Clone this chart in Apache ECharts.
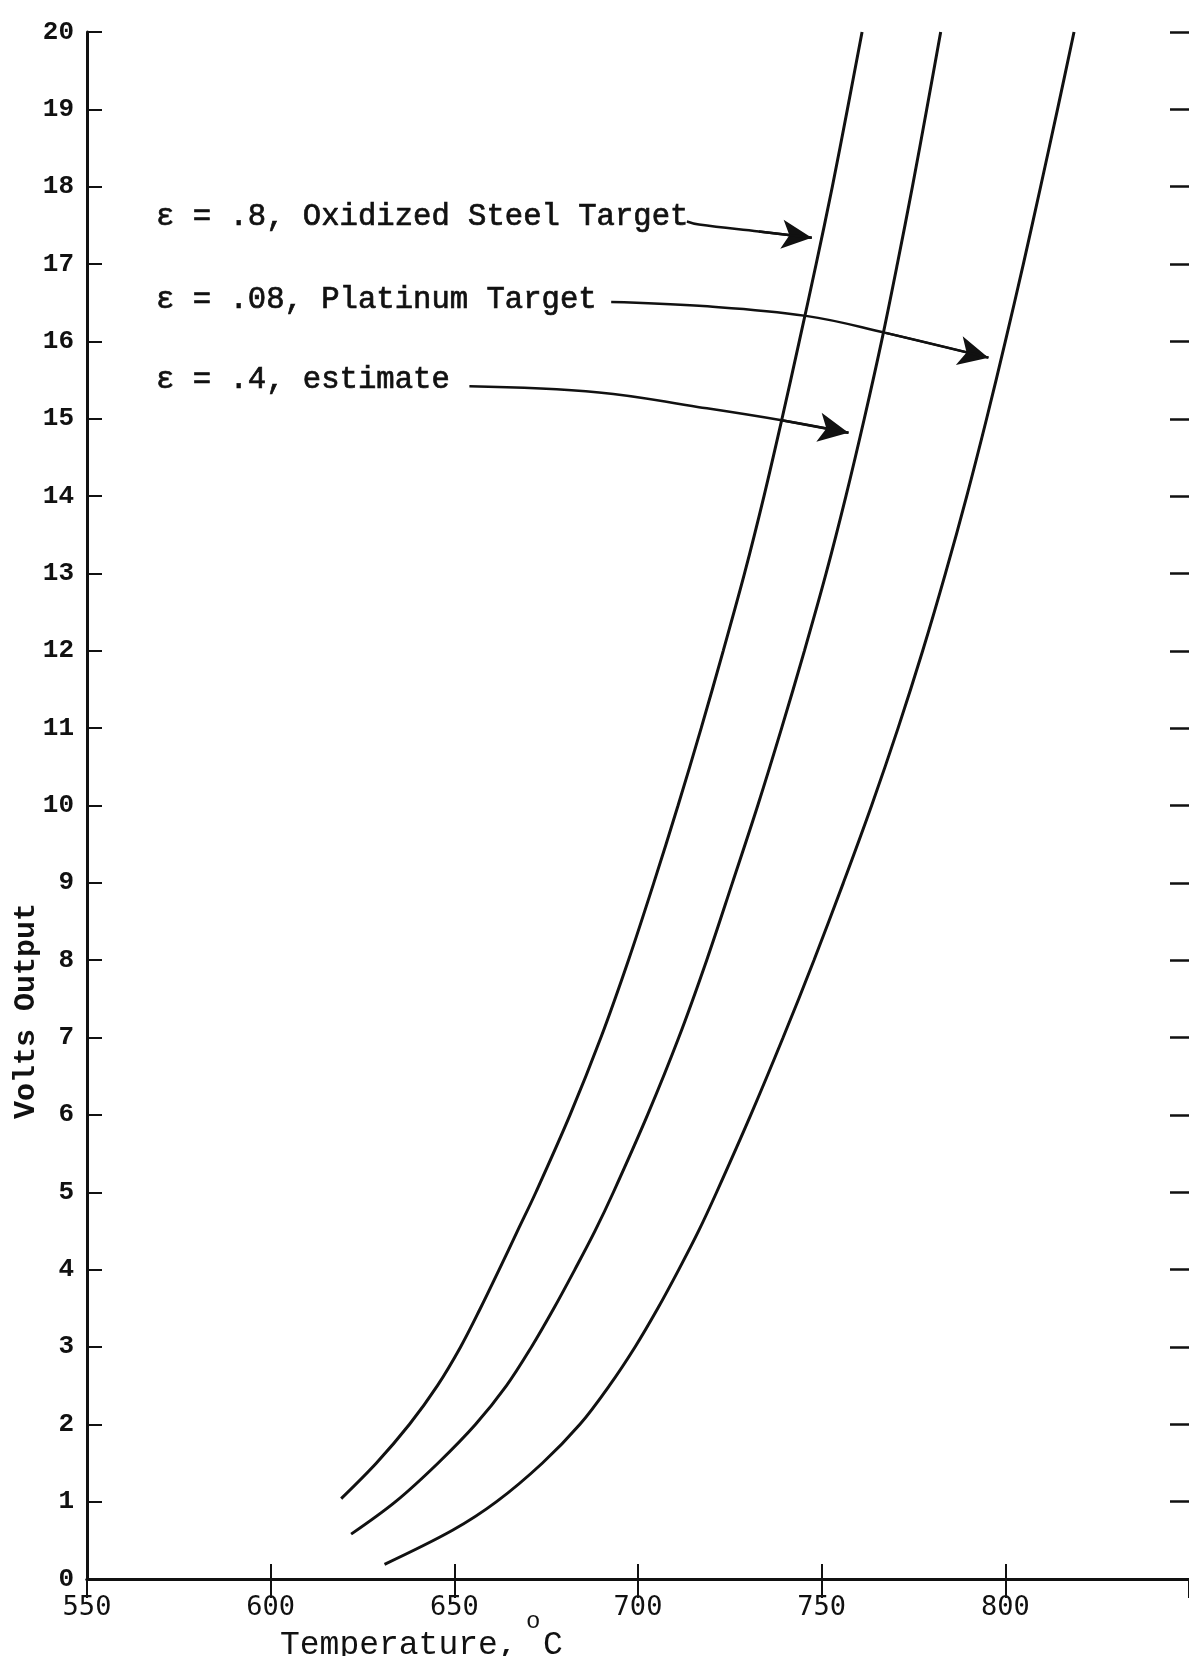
<!DOCTYPE html>
<html>
<head>
<meta charset="utf-8">
<script src="https://cdn.jsdelivr.net/npm/echarts@6/dist/echarts.min.js"></script>
<style>
  html, body { margin: 0; padding: 0; background: #fff; }
  #chart { width: 1189px; height: 1656px; }
</style>
</head>
<body>
<div id="chart"></div>
<script>
// ---- Data ----
// ε = .8, Oxidized Steel Target (left curve): temperature (°C) vs volts
const steelT = [619.2, 628.8, 637.8, 645.4, 651.7, 657.1, 662.2, 667.2, 672.2, 681.5, 689.9, 697.4, 704.3, 710.9, 717.2, 723.2, 729.0, 734.3, 739.2, 743.9, 748.5, 752.9, 757.0, 761.0];
const steelV = [1.04, 1.5, 2, 2.5, 3, 3.5, 4, 4.5, 5, 6, 7, 8, 9, 10, 11, 12, 13, 14, 15, 16, 17, 18, 19, 20];
// ε = .4, estimate (middle curve)
const estT = [621.9, 634.0, 645.6, 655.8, 664.2, 671.0, 677.1, 682.8, 688.3, 693.3, 702.6, 711.1, 718.7, 725.7, 732.6, 739.1, 745.3, 751.2, 756.6, 761.6, 766.3, 770.6, 774.7, 778.6, 782.4];
const estV = [0.58, 1, 1.5, 2, 2.5, 3, 3.5, 4, 4.5, 5, 6, 7, 8, 9, 10, 11, 12, 13, 14, 15, 16, 17, 18, 19, 20];
// ε = .08, Platinum Target (right curve)
const platT = [631.0, 649.5, 661.5, 674.0, 684.2, 692.2, 699.2, 705.4, 711.1, 716.5, 721.4, 730.7, 739.5, 747.9, 755.9, 763.6, 770.8, 777.5, 783.7, 789.5, 794.9, 800.0, 804.9, 809.6, 814.2, 818.7];
const platV = [0.19, 0.63, 1, 1.5, 2, 2.5, 3, 3.5, 4, 4.5, 5, 6, 7, 8, 9, 10, 11, 12, 13, 14, 15, 16, 17, 18, 19, 20];

// annotation leader arrows (data coordinates)
const arrowSteelT = [713.3, 716.6, 732.9, 747.3];
const arrowSteelV = [17.55, 17.51, 17.42, 17.34];
const arrowPlatT = [692.7, 716.6, 745.7, 767.4, 795.4];
const arrowPlatV = [16.51, 16.46, 16.33, 16.11, 15.79];
const arrowEstT = [654.1, 689.4, 716.6, 739.1, 757.3];
const arrowEstV = [15.42, 15.34, 15.15, 14.98, 14.82];

const annotationTexts = ['ε = .8, Oxidized Steel Target', 'ε = .08, Platinum Target', 'ε = .4, estimate'];

const xTickLabels = ['550', '600', '650', '700', '750', '800'];
const yTickLabels = ['0','1','2','3','4','5','6','7','8','9','10','11','12','13','14','15','16','17','18','19','20'];
const xAxisTitle = 'Temperature,';
const xAxisUnitSup = 'o';
const xAxisUnit = 'C';
const yAxisTitle = 'Volts Output';

// ---- Build ----
const zip = (a, b) => a.map((v, i) => [v, b[i]]);
const INK = '#111';

function curve(name, t, v) {
  return {
    type: 'line', name: name, data: zip(t, v), smooth: 0.35,
    symbol: 'none', xAxisIndex: 0, yAxisIndex: 0,
    lineStyle: { color: INK, width: 3 }, silent: true, z: 5
  };
}
function arrow(name, t, v) {
  const pts = zip(t, v);
  const n = pts.length;
  return {
    type: 'line', name: name, data: pts, smooth: 0.4,
    symbol: 'none', xAxisIndex: 0, yAxisIndex: 0,
    lineStyle: { color: INK, width: 2.5 }, silent: true, z: 6,
    markLine: {
      silent: true, symbol: ['none', 'arrow'], symbolSize: [22, 30],
      label: { show: false },
      lineStyle: { color: INK, width: 2.5, type: 'solid' },
      emphasis: { disabled: true },
      data: [[{ coord: pts[n - 2] }, { coord: pts[n - 1] }]]
    }
  };
}

const chart = echarts.init(document.getElementById('chart'), null, { renderer: 'canvas' });

const annoFont = '30.6px "Liberation Mono"';
const option = {
  backgroundColor: '#ffffff',
  animation: false,
  grid: { left: 87, right: -2, top: 32, bottom: 77, containLabel: false },
  xAxis: [
    {
      type: 'value', min: 550, max: 850, interval: 50, position: 'bottom',
      axisLine: { show: true, lineStyle: { color: INK, width: 3 } },
      axisTick: { show: true, inside: true, length: 15, lineStyle: { color: INK, width: 2 } },
      axisLabel: {
        show: true, margin: 15, color: INK, fontFamily: 'DejaVu Sans Mono', fontSize: 27,
        showMaxLabel: false,
        formatter: v => { const i = Math.round((v - 550) / 50); return xTickLabels[i] || ''; }
      },
      splitLine: { show: false }
    },
    {
      type: 'value', min: 550, max: 850, interval: 50, position: 'top',
      axisLine: { show: true, lineStyle: { color: INK, width: 3 } },
      axisTick: { show: true, inside: true, length: 19, lineStyle: { color: INK, width: 2 } },
      axisLabel: { show: false },
      splitLine: { show: false }
    }
  ],
  yAxis: [
    {
      type: 'value', min: 0, max: 20, interval: 1, position: 'left',
      axisLine: { show: true, lineStyle: { color: INK, width: 3 } },
      axisTick: { show: true, inside: true, length: 15, lineStyle: { color: INK, width: 2 } },
      axisLabel: {
        show: true, margin: 13, color: INK, fontFamily: 'Liberation Mono', fontWeight: 'bold', fontSize: 26,
        formatter: v => yTickLabels[Math.round(v)]
      },
      splitLine: { show: false }
    },
    {
      type: 'value', min: 0, max: 20, interval: 1, position: 'right',
      axisLine: { show: false },
      axisTick: { show: true, inside: true, length: 19, lineStyle: { color: INK, width: 2.5 } },
      axisLabel: { show: false },
      splitLine: { show: false }
    }
  ],
  series: [
    curve('ε = .8', steelT, steelV),
    curve('ε = .4', estT, estV),
    curve('ε = .08', platT, platV),
    arrow('arrow .8', arrowSteelT, arrowSteelV),
    arrow('arrow .08', arrowPlatT, arrowPlatV),
    arrow('arrow .4', arrowEstT, arrowEstV)
  ],
  graphic: [
    { type: 'text', x: 156, y: 217, silent: true,
      style: { text: annotationTexts[0], font: annoFont, fill: INK, stroke: INK, lineWidth: 0.7, textAlign: 'left', textVerticalAlign: 'middle' } },
    { type: 'text', x: 156, y: 300, silent: true,
      style: { text: annotationTexts[1], font: annoFont, fill: INK, stroke: INK, lineWidth: 0.7, textAlign: 'left', textVerticalAlign: 'middle' } },
    { type: 'text', x: 156, y: 380, silent: true,
      style: { text: annotationTexts[2], font: annoFont, fill: INK, stroke: INK, lineWidth: 0.7, textAlign: 'left', textVerticalAlign: 'middle' } },
    { type: 'text', x: 280, y: 1645, silent: true,
      style: { text: xAxisTitle, font: '33px "Liberation Mono"', fill: INK, textAlign: 'left', textVerticalAlign: 'middle' } },
    { type: 'text', x: 526, y: 1622, silent: true,
      style: { text: xAxisUnitSup, font: '24px "Liberation Mono"', fill: INK, textAlign: 'left', textVerticalAlign: 'middle' } },
    { type: 'text', x: 543, y: 1645, silent: true,
      style: { text: xAxisUnit, font: '33px "Liberation Mono"', fill: INK, textAlign: 'left', textVerticalAlign: 'middle' } },
    { type: 'text', x: 26, y: 1011, rotation: Math.PI / 2, silent: true,
      style: { text: yAxisTitle, font: 'bold 30px "Liberation Mono"', fill: INK, textAlign: 'center', textVerticalAlign: 'middle' } }
  ]
};
chart.setOption(option);
</script>
</body>
</html>
